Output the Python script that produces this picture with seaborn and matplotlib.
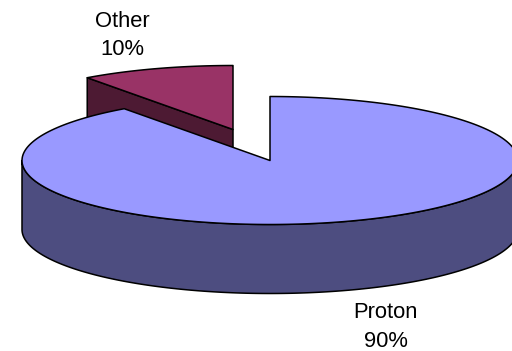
import numpy as np
import matplotlib
matplotlib.use("Agg")
import matplotlib.pyplot as plt
import seaborn as sns
from matplotlib.patches import Polygon

# Pie contents
categories = ["Proton", "Other"]
shares = [90, 10]
top_colors = ["#9999FF", "#993366"]
wall_colors = ["#4D4D80", "#4D1A33"]

sns.set_theme(style="white")
plt.rcParams["font.family"] = ["Liberation Sans", "DejaVu Sans"]

fig = plt.figure(figsize=(5.12, 3.51), dpi=100)
ax = fig.add_axes([0, 0, 1, 1])
ax.set_xlim(0, 512)
ax.set_ylim(351, 0)
ax.axis("off")

# Disc layout, in canvas pixels
RX, RY, DEPTH = 248.0, 64.0, 69.0
CENTERS = {"Proton": (270.0, 160.5), "Other": (233.0, 129.5)}
LABEL_POS = {"Proton": (385.5, 327.0), "Other": (122.5, 35.5)}
EDGE = dict(edgecolor="black", linewidth=1.1, joinstyle="round")


def rim(cx, cy, start, stop, n=240):
    """Points on the elliptical rim; angles run clockwise from 12 o'clock."""
    t = np.radians(np.linspace(start, stop, n))
    return np.column_stack([cx + RX * np.sin(t), cy - RY * np.cos(t)])


# Slice extents from the shares, first slice starting at 12 o'clock
stops = np.cumsum(shares) / np.sum(shares) * 360.0
starts = np.concatenate([[0.0], stops[:-1]])
extent = {c: (a, b) for c, a, b in zip(categories, starts, stops)}
top = dict(zip(categories, top_colors))
wall = dict(zip(categories, wall_colors))

# Detached slice goes first so the large slice covers its lower part
cx, cy = CENTERS["Other"]
a, b = extent["Other"]
corner = rim(cx, cy, a, a, 1)[0]
ax.add_patch(Polygon([corner, (cx, cy), (cx, cy + DEPTH), (corner[0], corner[1] + DEPTH)],
                     facecolor=wall["Other"], zorder=1, **EDGE))
ax.add_patch(Polygon(np.vstack([[(cx, cy)], rim(cx, cy, a, b)]),
                     facecolor=top["Other"], zorder=2, **EDGE))

# Large slice: curved outer wall on the front half, then its top face
cx, cy = CENTERS["Proton"]
a, b = extent["Proton"]
front = rim(cx, cy, 90, 270)
ax.add_patch(Polygon(np.vstack([front, (front + [0, DEPTH])[::-1]]),
                     facecolor=wall["Proton"], zorder=3, **EDGE))
ax.add_patch(Polygon(np.vstack([[(cx, cy)], rim(cx, cy, a, b)]),
                     facecolor=top["Proton"], zorder=4, **EDGE))

for name, share in zip(categories, shares):
    x, y = LABEL_POS[name]
    ax.text(x, y, f"{name}\n{share}%", ha="center", va="center",
            fontsize=15.8, linespacing=1.48, color="black", zorder=5)

fig.savefig("out.png", dpi=100, facecolor="white")
